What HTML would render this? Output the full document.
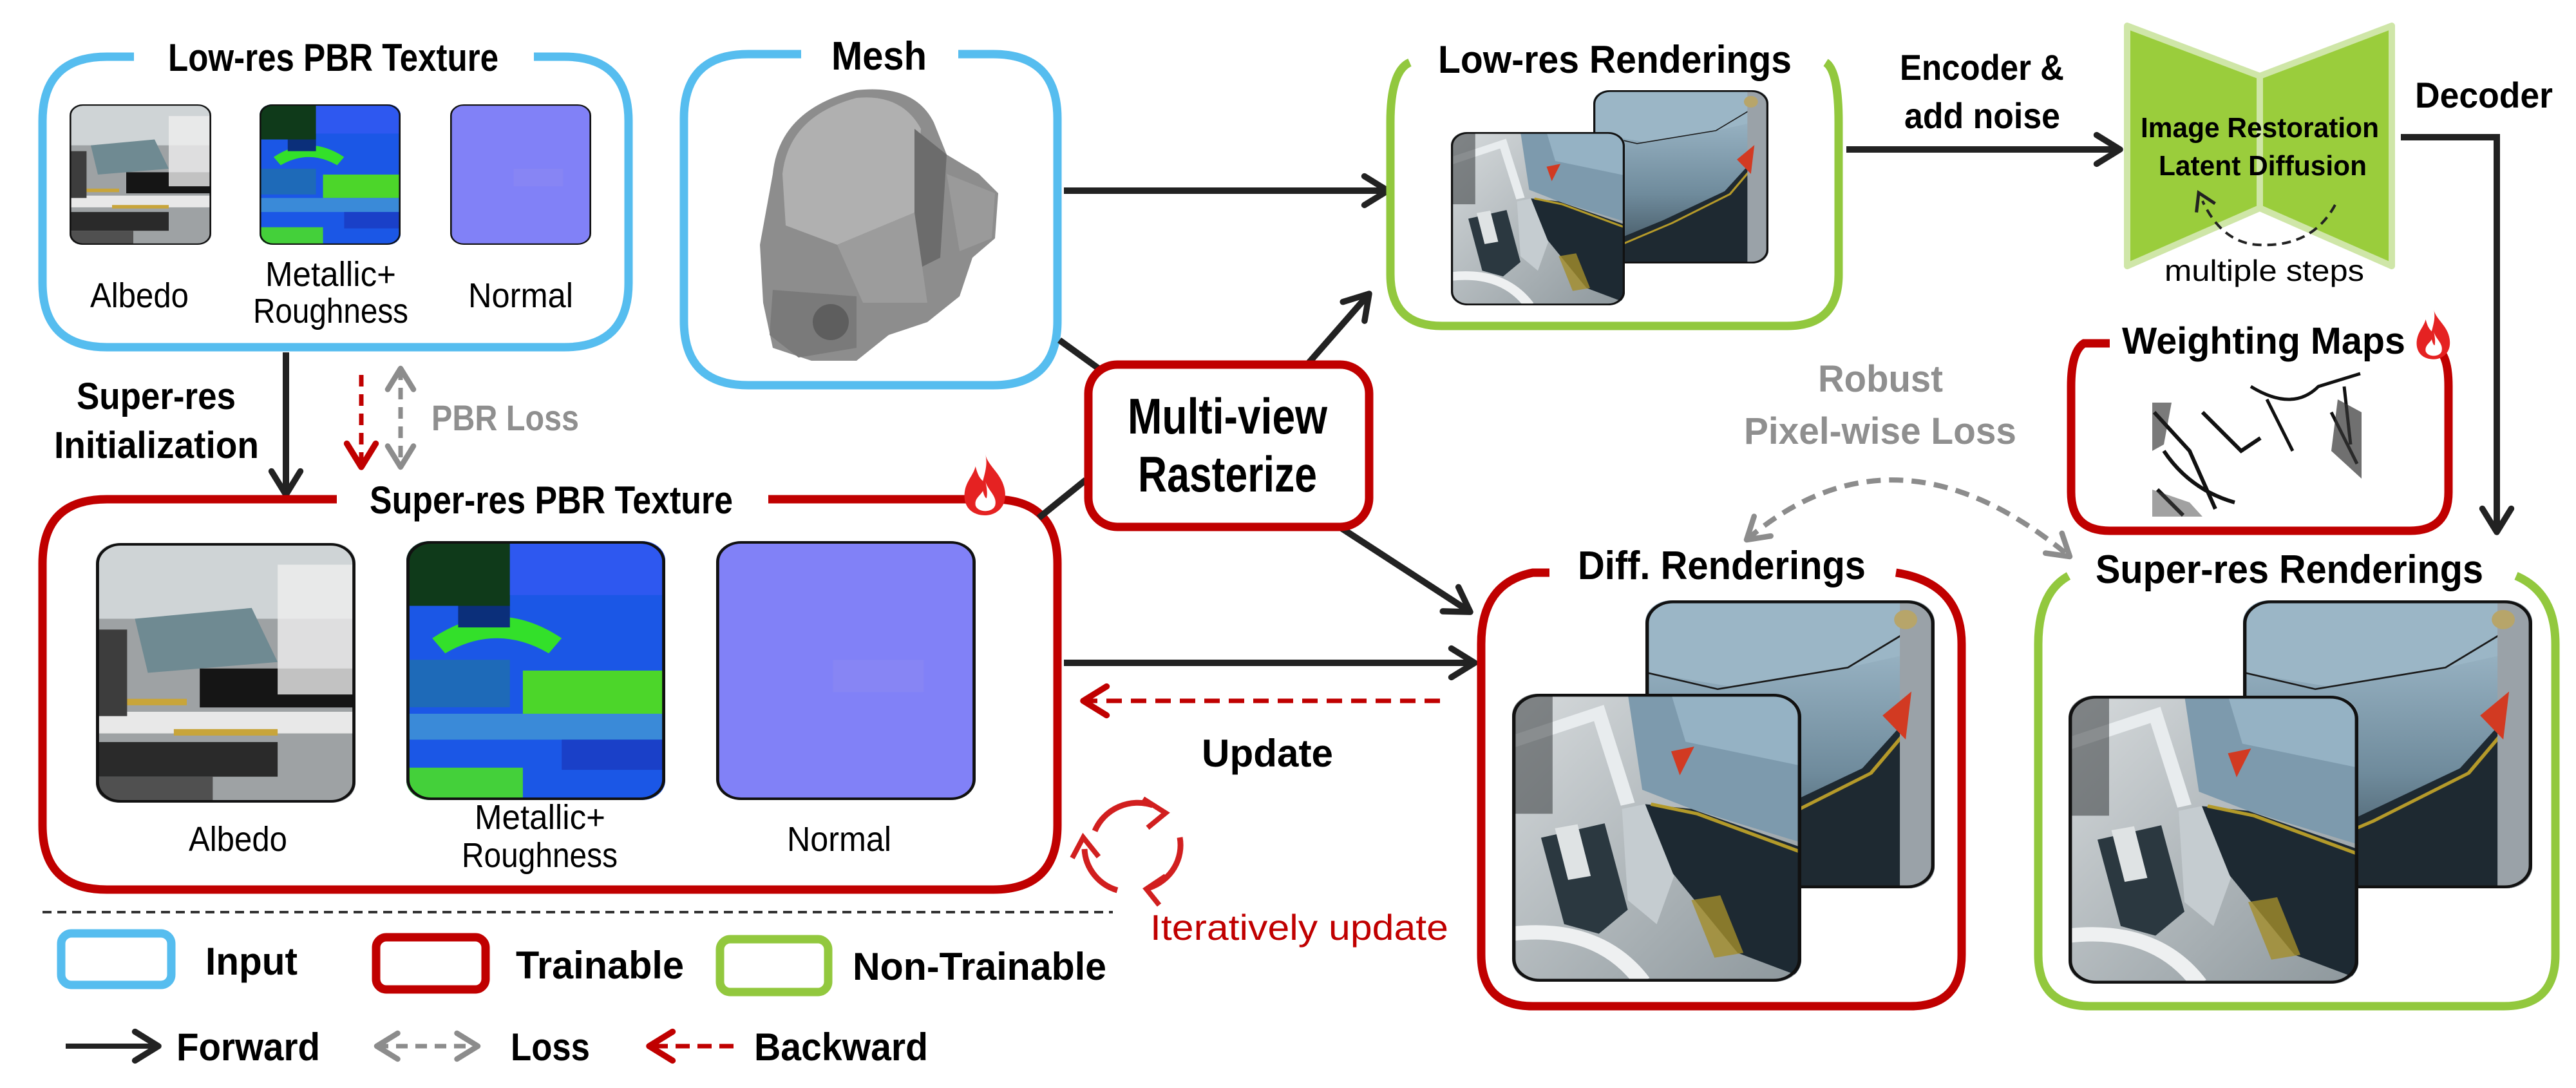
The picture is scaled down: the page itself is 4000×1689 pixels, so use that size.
<!DOCTYPE html>
<html><head><meta charset="utf-8"><style>html,body{margin:0;padding:0;background:#fff}svg{display:block}</style></head>
<body>
<svg width="4000" height="1689" viewBox="0 0 4000 1689" xmlns="http://www.w3.org/2000/svg" font-family="'Liberation Sans', 'DejaVu Sans', sans-serif">
<defs>
<marker id="ab" viewBox="0 0 20 20" refX="17" refY="10" markerWidth="56" markerHeight="56" markerUnits="userSpaceOnUse" orient="auto"><path d="M4,2 L17,10 L4,18" fill="none" stroke="#222" stroke-width="3.4" stroke-linecap="round" stroke-linejoin="round"/></marker>
<marker id="ar" viewBox="0 0 20 20" refX="17" refY="10" markerWidth="56" markerHeight="56" markerUnits="userSpaceOnUse" orient="auto"><path d="M4,2 L17,10 L4,18" fill="none" stroke="#c00000" stroke-width="3.4" stroke-linecap="round" stroke-linejoin="round"/></marker>
<marker id="ag" viewBox="0 0 20 20" refX="17" refY="10" markerWidth="50" markerHeight="50" markerUnits="userSpaceOnUse" orient="auto-start-reverse"><path d="M4,2 L17,10 L4,18" fill="none" stroke="#8c8c8c" stroke-width="3.4" stroke-linecap="round" stroke-linejoin="round"/></marker>
<marker id="ak" viewBox="0 0 20 20" refX="10" refY="10" markerWidth="40" markerHeight="40" markerUnits="userSpaceOnUse" orient="auto"><path d="M4,2 L17,10 L4,18" fill="none" stroke="#222" stroke-width="2.5"/></marker>
<linearGradient id="bg1" x1="0" y1="0" x2="0" y2="1"><stop offset="0" stop-color="#a8c2d2"/><stop offset="0.6" stop-color="#6f8b9c"/><stop offset="1" stop-color="#3a4b56"/></linearGradient>
<linearGradient id="gr1" x1="0" y1="0" x2="1" y2="1"><stop offset="0" stop-color="#d6dadc"/><stop offset="1" stop-color="#8d979c"/></linearGradient>
<clipPath id="cr"><rect x="0" y="0" width="100" height="120" rx="9" ry="9"/></clipPath>
<symbol id="back" viewBox="0 0 100 120" preserveAspectRatio="none">
<g clip-path="url(#cr)">
<rect width="100" height="120" fill="url(#bg1)"/>
<polygon points="0,30 30,36 70,28 100,20 100,0 0,0" fill="#9bb6c6"/>
<polyline points="0,30 25,37 70,28 92,12" fill="none" stroke="#1a1a1a" stroke-width="0.7"/>
<polygon points="0,110 40,90 75,70 90,50 100,48 100,120 0,120" fill="#1e2931"/>
<polyline points="10,110 45,92 78,72 92,52" fill="none" stroke="#b59a2a" stroke-width="1.3"/>
<rect x="88" y="0" width="12" height="120" fill="#9aa2a8"/>
<polygon points="82,48 92,38 90,58" fill="#d23a22"/>
<circle cx="90" cy="8" r="4" fill="#b7a56a"/>
</g>
<rect x="0.6" y="0.6" width="98.8" height="118.8" rx="9" fill="none" stroke="#111" stroke-width="1.2"/>
</symbol>
<symbol id="front" viewBox="0 0 100 120" preserveAspectRatio="none">
<g clip-path="url(#cr)">
<rect width="100" height="120" fill="url(#gr1)"/>
<polygon points="40,0 100,0 100,62 62,48 45,40" fill="#7d9aad"/>
<polygon points="55,0 100,0 100,30 60,20" fill="#95b2c4"/>
<polygon points="46,46 62,48 100,64 100,118 78,108 55,74" fill="#1d2932"/>
<polyline points="48,46 64,50 100,66" fill="none" stroke="#b39a2a" stroke-width="1.4"/>
<polygon points="62,86 72,84 80,108 70,110" fill="#a48d2a" opacity="0.8"/>
<polygon points="38,48 46,46 56,76 50,96 40,86" fill="#c5ccd0"/>
<polygon points="10,60 32,54 40,90 30,100 18,96" fill="#2b3840"/>
<rect x="17" y="55" width="8" height="22" fill="#dfe3e4" transform="rotate(-12 21 66)"/>
<path d="M0,100 Q30,96 45,120" fill="none" stroke="#eef0f1" stroke-width="6"/>
<path d="M0,20 L30,8 L40,46" fill="none" stroke="#e8ecee" stroke-width="5"/>
<polygon points="55,24 63,22 58,34" fill="#d23a22"/>
<rect x="0" y="0" width="14" height="50" fill="#2a2d30" opacity="0.5"/>
</g>
<rect x="0.6" y="0.6" width="98.8" height="118.8" rx="9" fill="none" stroke="#111" stroke-width="1.2"/>
</symbol>
<symbol id="alb" viewBox="0 0 100 120" preserveAspectRatio="none">
<g clip-path="url(#cr)">
<rect width="100" height="120" fill="#9ea2a4"/>
<rect x="0" y="0" width="100" height="35" fill="#cfd4d6"/>
<polygon points="15,35 60,30 70,55 20,60" fill="#6f8a92"/>
<rect x="40" y="58" width="60" height="18" fill="#151515"/>
<rect x="0" y="78" width="100" height="10" fill="#e8e8e8"/>
<rect x="0" y="92" width="70" height="16" fill="#2a2a2a"/>
<rect x="70" y="10" width="30" height="60" fill="#eeeeee" opacity="0.8"/>
<rect x="30" y="86" width="40" height="3" fill="#c8a53a"/>
<rect x="10" y="72" width="25" height="3" fill="#c8a53a"/>
<rect x="0" y="108" width="45" height="12" fill="#505050"/>
<rect x="0" y="40" width="12" height="40" fill="#3d3d3d"/>
</g>
<rect x="0.6" y="0.6" width="98.8" height="118.8" rx="9" fill="none" stroke="#111" stroke-width="1.2"/>
</symbol>
<symbol id="met" viewBox="0 0 100 120" preserveAspectRatio="none">
<g clip-path="url(#cr)">
<rect width="100" height="120" fill="#1b57e6"/>
<rect x="0" y="0" width="40" height="30" fill="#0f3a1a"/>
<rect x="40" y="0" width="60" height="25" fill="#2e58f0"/>
<path d="M10,45 Q35,25 60,45 L55,52 Q35,38 15,52 Z" fill="#33e02a"/>
<rect x="45" y="60" width="55" height="20" fill="#4cd62a"/>
<rect x="0" y="80" width="100" height="12" fill="#3a8ad8"/>
<rect x="0" y="105" width="45" height="15" fill="#44d03a"/>
<rect x="0" y="55" width="40" height="22" fill="#1e6ab8"/>
<rect x="60" y="92" width="40" height="14" fill="#1a40c8"/>
<rect x="20" y="30" width="20" height="10" fill="#0b2f7a"/>
</g>
<rect x="0.6" y="0.6" width="98.8" height="118.8" rx="9" fill="none" stroke="#111" stroke-width="1.2"/>
</symbol>
<symbol id="nor" viewBox="0 0 100 120" preserveAspectRatio="none">
<rect x="0.6" y="0.6" width="98.8" height="118.8" rx="9" fill="#8181f7" stroke="#111" stroke-width="1.2"/>
<rect x="45" y="55" width="35" height="15" fill="#8a88f2" opacity="0.7"/>
</symbol>
<symbol id="fire" viewBox="0 0 40 50">
<path d="M20,0 C22,10 34,16 36,30 C38,44 28,50 20,50 C10,50 2,44 3,32 C4,22 10,18 12,10 C14,18 16,20 18,22 C20,14 22,8 20,0 Z" fill="#e52222"/>
<path d="M20,22 C22,30 30,34 28,42 C26,48 14,48 12,42 C11,36 16,34 18,30 C19,34 20,36 21,36 C22,32 21,26 20,22 Z" fill="#fff"/>
</symbol>
</defs>

<!-- Low-res PBR texture box -->
<path d="M208,88 L166,88 Q66,88 66,188 L66,439 Q66,539 166,539 L876,539 Q976,539 976,439 L976,188 Q976,88 876,88 L829,88" fill="none" stroke="#56bdef" stroke-width="13"/>
<text x="261" y="110" font-size="60" font-weight="bold" textLength="513" lengthAdjust="spacingAndGlyphs">Low-res PBR Texture</text>
<use href="#alb" x="108" y="162" width="220" height="218"/>
<use href="#met" x="403" y="162" width="219" height="218"/>
<use href="#nor" x="699" y="162" width="219" height="218"/>
<text x="140" y="477" font-size="54" textLength="153" lengthAdjust="spacingAndGlyphs">Albedo</text>
<text x="412" y="444" font-size="54" textLength="203" lengthAdjust="spacingAndGlyphs">Metallic+</text>
<text x="393" y="501" font-size="54" textLength="241" lengthAdjust="spacingAndGlyphs">Roughness</text>
<text x="727" y="477" font-size="54" textLength="163" lengthAdjust="spacingAndGlyphs">Normal</text>

<!-- Mesh box -->
<path d="M1244,84 L1162,84 Q1062,84 1062,184 L1062,498 Q1062,598 1162,598 L1542,598 Q1642,598 1642,498 L1642,184 Q1642,84 1542,84 L1488,84" fill="none" stroke="#56bdef" stroke-width="13"/>
<text x="1291" y="108" font-size="62" font-weight="bold" textLength="148" lengthAdjust="spacingAndGlyphs">Mesh</text>
<!-- helmet -->
<g>
<path d="M1200,270 Q1210,170 1330,140 Q1420,130 1450,190 L1470,240 L1520,270 L1550,300 L1545,370 L1510,400 L1490,460 L1440,500 L1380,520 L1330,560 L1260,560 L1200,540 L1185,470 L1180,380 Z" fill="#8d8d8d"/>
<path d="M1215,270 Q1225,180 1330,152 Q1400,145 1430,200 L1420,330 L1300,380 L1220,350 Z" fill="#b0b0b0"/>
<path d="M1420,200 L1470,240 L1460,400 L1420,420 Z" fill="#6c6c6c"/>
<path d="M1470,270 L1545,300 L1540,370 L1490,390 Z" fill="#9a9a9a"/>
<path d="M1200,450 L1330,460 L1330,540 L1240,555 L1195,520 Z" fill="#7a7a7a"/>
<circle cx="1290" cy="500" r="28" fill="#5e5e5e"/>
<path d="M1300,380 L1420,330 L1440,470 L1340,470 Z" fill="#9c9c9c"/>
</g>

<!-- Super-res init arrow -->
<line x1="444" y1="547" x2="444" y2="768" stroke="#222" stroke-width="10" marker-end="url(#ab)"/>
<text x="119" y="635" font-size="58" font-weight="bold" textLength="247" lengthAdjust="spacingAndGlyphs">Super-res</text>
<text x="84" y="711" font-size="58" font-weight="bold" textLength="318" lengthAdjust="spacingAndGlyphs">Initialization</text>
<line x1="561" y1="582" x2="561" y2="725" stroke="#c00000" stroke-width="7" stroke-dasharray="18,12" marker-end="url(#ar)"/>
<line x1="622" y1="572" x2="622" y2="725" stroke="#8c8c8c" stroke-width="7" stroke-dasharray="18,12" marker-end="url(#ag)" marker-start="url(#ag)"/>
<text x="670" y="668" font-size="56" font-weight="bold" fill="#8f8f8f" textLength="229" lengthAdjust="spacingAndGlyphs">PBR Loss</text>

<!-- Super-res PBR texture box -->
<path d="M523,775 L166,775 Q66,775 66,875 L66,1281 Q66,1381 166,1381 L1542,1381 Q1642,1381 1642,1281 L1642,875 Q1642,775 1542,775 L1193,775" fill="none" stroke="#c00000" stroke-width="13"/>
<text x="574" y="797" font-size="60" font-weight="bold" textLength="564" lengthAdjust="spacingAndGlyphs">Super-res PBR Texture</text>
<use href="#fire" x="1492" y="705" width="76" height="95"/>
<use href="#alb" x="149" y="843" width="403" height="403"/>
<use href="#met" x="631" y="840" width="402" height="402"/>
<use href="#nor" x="1112" y="840" width="403" height="402"/>
<text x="293" y="1321" font-size="54" textLength="153" lengthAdjust="spacingAndGlyphs">Albedo</text>
<text x="737" y="1287" font-size="54" textLength="203" lengthAdjust="spacingAndGlyphs">Metallic+</text>
<text x="717" y="1346" font-size="54" textLength="242" lengthAdjust="spacingAndGlyphs">Roughness</text>
<text x="1222" y="1321" font-size="54" textLength="162" lengthAdjust="spacingAndGlyphs">Normal</text>

<!-- connectors to raster -->
<line x1="1645" y1="528" x2="1710" y2="575" stroke="#222" stroke-width="10"/>
<line x1="1613" y1="804" x2="1686" y2="745" stroke="#222" stroke-width="10"/>
<line x1="1652" y1="296" x2="2155" y2="296" stroke="#222" stroke-width="10" marker-end="url(#ab)"/>
<line x1="1965" y1="640" x2="2126" y2="456" stroke="#222" stroke-width="10" marker-end="url(#ab)"/>
<line x1="2080" y1="818" x2="2283" y2="950" stroke="#222" stroke-width="10" marker-end="url(#ab)"/>
<line x1="1652" y1="1029" x2="2290" y2="1029" stroke="#222" stroke-width="10" marker-end="url(#ab)"/>
<line x1="2236" y1="1088" x2="1682" y2="1088" stroke="#c00000" stroke-width="7" stroke-dasharray="24,14" marker-end="url(#ar)"/>
<text x="1866" y="1190" font-size="60" font-weight="bold" textLength="204" lengthAdjust="spacingAndGlyphs">Update</text>

<!-- Multi-view rasterize box -->
<rect x="1690" y="566" width="436" height="252" rx="45" fill="#fff" stroke="#c00000" stroke-width="13"/>
<text x="1751" y="673" font-size="78" font-weight="bold" textLength="310" lengthAdjust="spacingAndGlyphs">Multi-view</text>
<text x="1767" y="763" font-size="78" font-weight="bold" textLength="278" lengthAdjust="spacingAndGlyphs">Rasterize</text>

<!-- cycle icon -->
<g fill="none" stroke="#d11f1f" stroke-width="9">
<path d="M1700,1290 A72,70 0 0 1 1790,1250"/>
<path d="M1832,1300 A72,70 0 0 1 1785,1378"/>
<path d="M1735,1382 A72,70 0 0 1 1684,1318"/>
<path d="M1775,1240 L1810,1262 L1782,1285" stroke-width="8"/>
<path d="M1810,1360 L1780,1380 L1800,1405" stroke-width="8"/>
<path d="M1665,1332 L1682,1300 L1706,1330" stroke-width="8"/>
</g>
<text x="1786" y="1459" font-size="56" fill="#c00000" textLength="463" lengthAdjust="spacingAndGlyphs">Iteratively update</text>

<!-- separator & legend -->
<line x1="66" y1="1416" x2="1728" y2="1416" stroke="#333" stroke-width="4" stroke-dasharray="14,9"/>
<rect x="95" y="1449" width="171" height="80" rx="16" fill="none" stroke="#56bdef" stroke-width="13"/>
<text x="319" y="1513" font-size="60" font-weight="bold" textLength="143" lengthAdjust="spacingAndGlyphs">Input</text>
<rect x="584" y="1455" width="170" height="81" rx="16" fill="none" stroke="#c00000" stroke-width="13"/>
<text x="801" y="1519" font-size="60" font-weight="bold" textLength="261" lengthAdjust="spacingAndGlyphs">Trainable</text>
<rect x="1118" y="1458" width="168" height="82" rx="16" fill="none" stroke="#92c83e" stroke-width="13"/>
<text x="1324" y="1521" font-size="60" font-weight="bold" textLength="394" lengthAdjust="spacingAndGlyphs">Non-Trainable</text>
<line x1="102" y1="1624" x2="246" y2="1624" stroke="#222" stroke-width="8" marker-end="url(#ab)"/>
<text x="274" y="1646" font-size="60" font-weight="bold" textLength="223" lengthAdjust="spacingAndGlyphs">Forward</text>
<line x1="585" y1="1624" x2="742" y2="1624" stroke="#8c8c8c" stroke-width="7" stroke-dasharray="18,12" marker-end="url(#ag)" marker-start="url(#ag)"/>
<text x="793" y="1646" font-size="60" font-weight="bold" textLength="123" lengthAdjust="spacingAndGlyphs">Loss</text>
<line x1="1139" y1="1624" x2="1008" y2="1624" stroke="#c00000" stroke-width="7" stroke-dasharray="22,12" marker-end="url(#ar)"/>
<text x="1171" y="1646" font-size="60" font-weight="bold" textLength="270" lengthAdjust="spacingAndGlyphs">Backward</text>

<!-- Low-res renderings box -->
<path d="M2189,97 Q2159,110 2159,190 L2159,426 Q2159,506 2239,506 L2775,506 Q2855,506 2855,426 L2855,190 Q2855,110 2835,97" fill="none" stroke="#92c83e" stroke-width="13"/>
<text x="2233" y="113" font-size="60" font-weight="bold" textLength="549" lengthAdjust="spacingAndGlyphs">Low-res Renderings</text>
<use href="#back" x="2474" y="140" width="272" height="269"/>
<use href="#front" x="2253" y="205" width="270" height="269"/>

<!-- Encoder arrow -->
<line x1="2867" y1="232" x2="3292" y2="232" stroke="#222" stroke-width="10" marker-end="url(#ab)"/>
<text x="2950" y="124" font-size="56" font-weight="bold" textLength="255" lengthAdjust="spacingAndGlyphs">Encoder &amp;</text>
<text x="2957" y="199" font-size="56" font-weight="bold" textLength="242" lengthAdjust="spacingAndGlyphs">add noise</text>

<!-- diffusion bowtie -->
<polygon points="3303,40 3509,118 3509,323 3303,413" fill="#9acd3c" stroke="#cfe6a8" stroke-width="10" stroke-linejoin="round"/>
<polygon points="3509,118 3714,40 3714,413 3509,323" fill="#9acd3c" stroke="#cfe6a8" stroke-width="10" stroke-linejoin="round"/>
<text x="3324" y="213" font-size="44" font-weight="bold" textLength="370" lengthAdjust="spacingAndGlyphs">Image Restoration</text>
<text x="3352" y="272" font-size="44" font-weight="bold" textLength="323" lengthAdjust="spacingAndGlyphs">Latent Diffusion</text>
<path d="M3626,318 Q3590,385 3505,380 Q3450,376 3420,312" fill="none" stroke="#222" stroke-width="4" stroke-dasharray="14,9" marker-end="url(#ak)"/>
<text x="3361" y="436" font-size="46" textLength="310" lengthAdjust="spacingAndGlyphs">multiple steps</text>

<!-- Decoder -->
<text x="3750" y="167" font-size="56" font-weight="bold" textLength="214" lengthAdjust="spacingAndGlyphs">Decoder</text>
<polyline points="3728,213 3877,213 3877,826" fill="none" stroke="#222" stroke-width="10" marker-end="url(#ab)"/>

<!-- Weighting maps -->
<path d="M3276,533 L3236,533 Q3216,545 3216,600 L3216,764 Q3216,824 3276,824 L3742,824 Q3802,824 3802,764 L3802,600 Q3802,545 3780,540" fill="none" stroke="#c00000" stroke-width="13"/>
<text x="3295" y="549" font-size="58" font-weight="bold" textLength="440" lengthAdjust="spacingAndGlyphs">Weighting Maps</text>
<use href="#fire" x="3748" y="480" width="62" height="78"/>
<g>
<rect x="3490" y="568" width="177" height="175" fill="#fff"/>
<path d="M3495,600 Q3560,640 3600,600 L3665,580 M3520,620 L3560,700 M3620,640 L3660,720 M3640,600 L3650,690" fill="none" stroke="#111" stroke-width="5"/>
<path d="M3630,620 L3667,640 L3667,743 L3620,700 Z" fill="#333" opacity="0.7"/>
<rect x="3342" y="625" width="176" height="177" fill="#fff"/>
<path d="M3345,640 L3400,700 L3440,790 M3360,700 Q3400,760 3470,780 M3420,640 L3480,700 L3510,680 M3350,760 L3390,800" fill="none" stroke="#111" stroke-width="6"/>
<path d="M3342,625 L3372,625 L3360,690 L3342,700 Z" fill="#222" opacity="0.6"/>
<path d="M3342,760 L3400,780 L3420,802 L3342,802 Z" fill="#444" opacity="0.5"/>
</g>

<!-- Robust loss -->
<text x="2823" y="608" font-size="58" font-weight="bold" fill="#8f8f8f" textLength="194" lengthAdjust="spacingAndGlyphs">Robust</text>
<text x="2708" y="689" font-size="58" font-weight="bold" fill="#8f8f8f" textLength="423" lengthAdjust="spacingAndGlyphs">Pixel-wise Loss</text>
<path d="M2712,838 Q2944,640 3214,864" fill="none" stroke="#8c8c8c" stroke-width="8" stroke-dasharray="22,13" marker-end="url(#ag)" marker-start="url(#ag)"/>

<!-- Diff renderings -->
<path d="M2406,889 L2380,889 Q2300,905 2300,1000 L2300,1482 Q2300,1562 2380,1562 L2966,1562 Q3046,1562 3046,1482 L3046,1000 Q3046,905 2944,889" fill="none" stroke="#c00000" stroke-width="13"/>
<text x="2450" y="899" font-size="62" font-weight="bold" textLength="447" lengthAdjust="spacingAndGlyphs">Diff. Renderings</text>
<use href="#back" x="2555" y="932" width="449" height="447"/>
<use href="#front" x="2348" y="1077" width="449" height="447"/>

<!-- Super-res renderings -->
<path d="M3212,894 Q3165,920 3165,1000 L3165,1482 Q3165,1562 3245,1562 L3888,1562 Q3968,1562 3968,1482 L3968,1000 Q3968,920 3907,894" fill="none" stroke="#92c83e" stroke-width="13"/>
<text x="3254" y="905" font-size="62" font-weight="bold" textLength="602" lengthAdjust="spacingAndGlyphs">Super-res Renderings</text>
<use href="#back" x="3483" y="932" width="449" height="447"/>
<use href="#front" x="3212" y="1080" width="450" height="447"/>
</svg>
</body></html>
